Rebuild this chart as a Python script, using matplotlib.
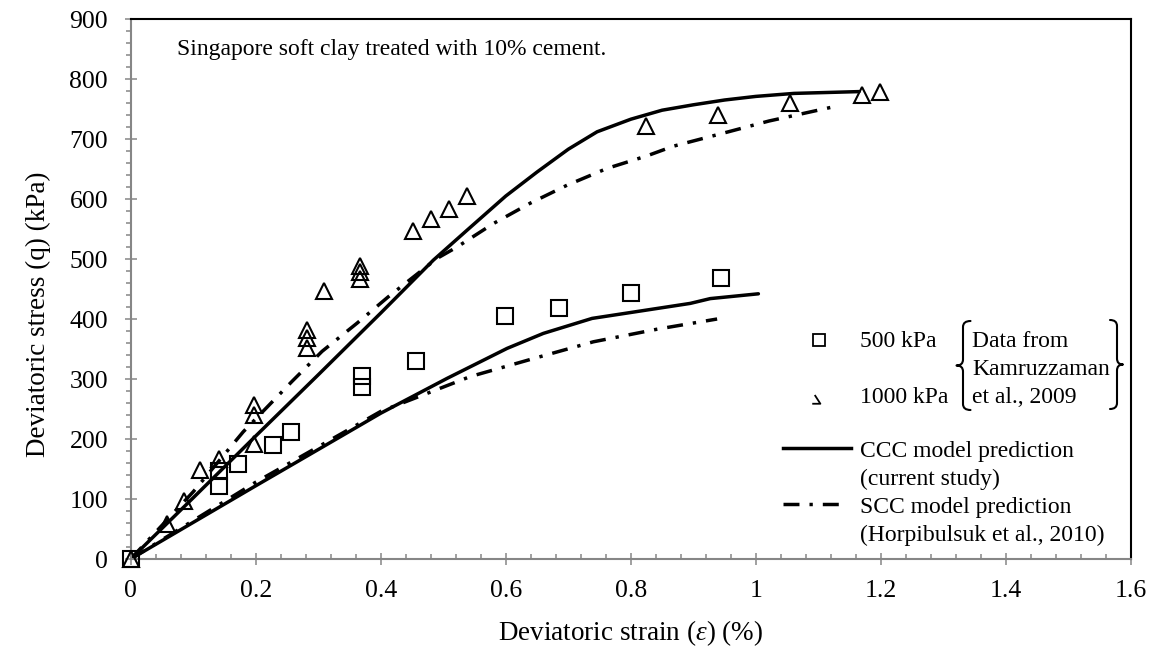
import matplotlib
matplotlib.use("Agg")
import matplotlib.pyplot as plt
from matplotlib.lines import Line2D
from matplotlib.path import Path
from matplotlib.patches import PathPatch
from matplotlib.ticker import MultipleLocator, FuncFormatter

# ---------------- data ----------------
strain_500 = [0, 0.141, 0.141, 0.171, 0.227, 0.256, 0.370, 0.370, 0.456, 0.599, 0.685, 0.800, 0.944]
q_500 = [0, 122, 147, 158, 190, 212, 287, 305, 330, 405, 418, 443, 469]

strain_1000 = [0, 0.058, 0.086, 0.111, 0.141, 0.197, 0.197, 0.197, 0.282, 0.282, 0.282, 0.309,
               0.367, 0.367, 0.367, 0.451, 0.480, 0.509, 0.538, 0.824, 0.939, 1.054, 1.170, 1.198]
q_1000 = [0, 59, 96, 149, 167, 192, 240, 257, 351, 368, 382, 446,
          467, 479, 489, 547, 567, 584, 605, 722, 740, 760, 773, 778]

ccc_1000_x = [0, 0.1, 0.2, 0.3, 0.4, 0.484, 0.538, 0.6, 0.65, 0.7, 0.746, 0.8, 0.85, 0.9, 0.95, 1.0, 1.061, 1.165]
ccc_1000_y = [0, 102, 205, 307, 410, 498, 548, 605, 645, 683, 712, 733, 748, 757, 765, 771, 776, 779]

scc_1000_x = [0, 0.1, 0.18, 0.258, 0.306, 0.362, 0.412, 0.49, 0.522, 0.58, 0.639, 0.698, 0.762, 0.826, 0.868, 0.956, 1.021, 1.13]
scc_1000_y = [0, 112, 212, 296, 346, 393, 437, 501, 520, 559, 593, 623, 651, 672, 688, 712, 730, 755]

ccc_500_x = [0, 0.2, 0.367, 0.4, 0.506, 0.602, 0.66, 0.738, 0.895, 0.927, 1.004]
ccc_500_y = [0, 122, 223, 243, 301, 351, 376, 401, 426, 434, 442]

scc_500_x = [0, 0.2, 0.4, 0.474, 0.543, 0.644, 0.74, 0.842, 0.938]
scc_500_y = [0, 128, 246, 276, 304, 334, 362, 383, 400]

x_ticks = [0, 0.2, 0.4, 0.6, 0.8, 1.0, 1.2, 1.4, 1.6]
y_ticks = [0, 100, 200, 300, 400, 500, 600, 700, 800, 900]

# ---------------- style ----------------
plt.rcParams['font.family'] = ['Liberation Serif', 'DejaVu Serif']
plt.rcParams['mathtext.fontset'] = 'custom'
plt.rcParams['mathtext.rm'] = 'Liberation Serif'
plt.rcParams['mathtext.it'] = 'Liberation Serif:italic'
plt.rcParams['lines.scale_dashes'] = False

W, H = 1156, 653
DPI = 100
fig = plt.figure(figsize=(W / DPI, H / DPI), dpi=DPI)

left_px, right_px, top_px, bot_px = 130.7, 1131, 19, 559
ax = fig.add_axes([left_px / W, 1 - bot_px / H, (right_px - left_px) / W, (bot_px - top_px) / H])

GRAY = '#868686'
DASHDOT = (0, (11.5, 7.2, 2.4, 7.2))
LW = 2.5

ax.plot(ccc_1000_x, ccc_1000_y, color='black', lw=LW, solid_capstyle='round', solid_joinstyle='round', zorder=2)
ax.plot(ccc_500_x, ccc_500_y, color='black', lw=LW, solid_capstyle='round', solid_joinstyle='round', zorder=2)
ax.plot(scc_1000_x, scc_1000_y, color='black', lw=LW, linestyle=DASHDOT, zorder=2)
ax.plot(scc_500_x, scc_500_y, color='black', lw=LW, linestyle=DASHDOT, zorder=2)

ax.plot(strain_500, q_500, linestyle='none', marker='s', ms=11.5, mfc='none', mec='black', mew=1.5, zorder=3, clip_on=False)
ax.plot(strain_1000, q_1000, linestyle='none', marker='^', ms=12, mfc='none', mec='black', mew=1.5, zorder=3, clip_on=False)

ax.set_xlim(0, 1.6)
ax.set_ylim(0, 900)
ax.set_xticks(x_ticks)
ax.set_yticks(y_ticks)
ax.xaxis.set_minor_locator(MultipleLocator(0.04))
ax.yaxis.set_minor_locator(MultipleLocator(20))
ax.xaxis.set_major_formatter(FuncFormatter(lambda v, p: f'{v:g}'))
ax.yaxis.set_major_formatter(FuncFormatter(lambda v, p: f'{v:g}'))

ax.spines['left'].set_color(GRAY)
ax.spines['bottom'].set_color(GRAY)
ax.spines['left'].set_linewidth(1.5)
ax.spines['bottom'].set_linewidth(1.5)
ax.spines['top'].set_color('black')
ax.spines['right'].set_color('black')
ax.spines['top'].set_linewidth(1.5)
ax.spines['right'].set_linewidth(1.5)

ax.tick_params(axis='both', which='major', direction='inout', length=8.6, width=1.1, color=GRAY, labelsize=18.5)
ax.tick_params(axis='x', which='major', pad=11)
ax.tick_params(axis='y', which='major', pad=12)
ax.tick_params(axis='x', which='minor', direction='in', length=3.8, width=1.1, color=GRAY)
ax.tick_params(axis='y', which='minor', direction='out', length=3.8, width=1.1, color=GRAY)

ax.set_xlabel(r'Deviatoric strain ($\varepsilon$) (%)', fontsize=19.5, va='baseline')
ax.xaxis.set_label_coords((631 - left_px) / (right_px - left_px), -(640 - bot_px) / (bot_px - top_px))
ax.set_ylabel('Deviatoric stress (q) (kPa)', fontsize=19.5, rotation=90, rotation_mode='anchor',
              ha='center', va='baseline')
ax.yaxis.set_label_coords(-(left_px - 45) / (right_px - left_px), (bot_px - 314) / (bot_px - top_px))


def fx(x):
    return x / W


def fy(y):
    return 1 - y / H


# annotation
fig.text(fx(177), fy(55), 'Singapore soft clay treated with 10% cement.', fontsize=17, va='baseline', ha='left')

# ---------------- custom legend ----------------
FS = 17
fig.add_artist(Line2D([fx(818.5)], [fy(340)], transform=fig.transFigure, marker='s', ms=9,
                      mfc='none', mec='black', mew=1.3, linestyle='none'))
tri_path = Path([[-0.6, 0.4], [0.3, -1], [-1, -1]])
fig.add_artist(Line2D([fx(818)], [fy(397)], transform=fig.transFigure, marker=tri_path, ms=9,
                      mfc='none', mec='black', mew=1.3, linestyle='none'))
fig.text(fx(860), fy(347), '500 kPa', fontsize=FS, va='baseline')
fig.text(fx(860), fy(403), '1000 kPa', fontsize=FS, va='baseline')
fig.text(fx(972), fy(347), 'Data from', fontsize=FS, va='baseline')
fig.text(fx(972), fy(375), 'Kamruzzaman', fontsize=FS, va='baseline')
fig.text(fx(972), fy(403), 'et al., 2009', fontsize=FS, va='baseline')

fig.add_artist(Line2D([fx(783), fx(851)], [fy(448), fy(448)], transform=fig.transFigure,
                      color='black', lw=LW))
fig.text(fx(860), fy(456.5), 'CCC model prediction', fontsize=FS, va='baseline')
fig.text(fx(860), fy(485), '(current study)', fontsize=FS, va='baseline')
fig.add_artist(Line2D([fx(783), fx(842)], [fy(504), fy(504)], transform=fig.transFigure,
                      color='black', lw=LW, linestyle=DASHDOT))
fig.text(fx(860), fy(513), 'SCC model prediction', fontsize=FS, va='baseline')
fig.text(fx(860), fy(541), '(Horpibulsuk et al., 2010)', fontsize=FS, va='baseline')


def brace(x_end, x_mid, x_tip, y_top, y_bot, r=6):
    yc = (y_top + y_bot) / 2
    pts = [(x_end, y_top), (x_mid, y_top), (x_mid, y_top + r),
           (x_mid, yc - r), (x_mid, yc), (x_tip, yc),
           (x_mid, yc), (x_mid, yc + r),
           (x_mid, y_bot - r), (x_mid, y_bot), (x_end, y_bot)]
    codes = [Path.MOVETO, Path.CURVE3, Path.CURVE3,
             Path.LINETO, Path.CURVE3, Path.CURVE3,
             Path.CURVE3, Path.CURVE3,
             Path.LINETO, Path.CURVE3, Path.CURVE3]
    verts = [(fx(x), fy(y)) for x, y in pts]
    fig.add_artist(PathPatch(Path(verts, codes), transform=fig.transFigure, fill=False,
                             lw=1.5, edgecolor='black', capstyle='round', joinstyle='round'))


brace(970.5, 963, 956.5, 321, 410)
brace(1110, 1117, 1123, 320, 409)

fig.savefig('out.png', dpi=DPI)
